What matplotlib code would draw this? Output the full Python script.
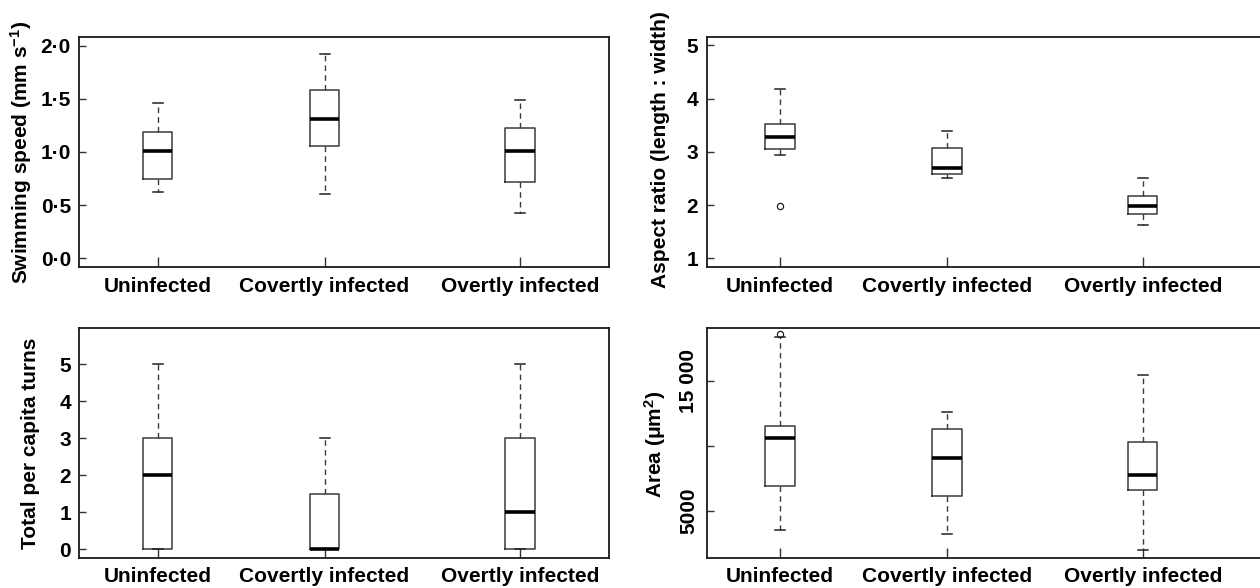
import matplotlib
matplotlib.use("Agg")
import matplotlib.pyplot as plt

plt.rcParams['font.family'] = ['Liberation Sans', 'DejaVu Sans']
plt.rcParams['font.weight'] = 'bold'
plt.rcParams['mathtext.fontset'] = 'custom'
plt.rcParams['mathtext.rm'] = 'Liberation Sans:bold'
plt.rcParams['mathtext.it'] = 'Liberation Sans:bold'
plt.rcParams['mathtext.bf'] = 'Liberation Sans:bold'

groups = ["Uninfected", "Covertly infected", "Overtly infected"]

# Swimming speed (mm s^-1)
speed_low = [0.624, 0.605, 0.425]
speed_q1 = [0.746, 1.052, 0.715]
speed_med = [1.006, 1.312, 1.009]
speed_q3 = [1.187, 1.584, 1.221]
speed_high = [1.462, 1.921, 1.487]
speed_out = [[], [], []]
speed_ticks = [0.0, 0.5, 1.0, 1.5, 2.0]
speed_ticklabels = ["0·0", "0·5", "1·0", "1·5", "2·0"]

# Aspect ratio (length : width)
aspect_low = [2.94, 2.51, 1.62]
aspect_q1 = [3.06, 2.59, 1.825]
aspect_med = [3.27, 2.70, 1.975]
aspect_q3 = [3.525, 3.08, 2.17]
aspect_high = [4.19, 3.40, 2.51]
aspect_out = [[1.99], [], []]
aspect_ticks = [1, 2, 3, 4, 5]
aspect_ticklabels = ["1", "2", "3", "4", "5"]

# Total per capita turns
turns_low = [0, 0, 0]
turns_q1 = [0, 0, 0]
turns_med = [2, 0, 1]
turns_q3 = [3, 1.5, 3]
turns_high = [5, 3, 5]
turns_out = [[], [], []]
turns_ticks = [0, 1, 2, 3, 4, 5]
turns_ticklabels = ["0", "1", "2", "3", "4", "5"]

# Area (um^2)
area_low = [3505, 3170, 1959]
area_q1 = [6907, 6160, 6572]
area_med = [10593, 9098, 7758]
area_q3 = [11572, 11340, 10335]
area_high = [18428, 12655, 15490]
area_out = [[18686], [], []]
area_ticks = [5000, 10000, 15000]
area_ticklabels = ["5000", "", "15 000"]

W, H = 1260, 588
fig = plt.figure(figsize=(W / 100, H / 100), dpi=100)


def px_axes(left, top, right, bottom):
    return fig.add_axes([left / W, 1 - bottom / H, (right - left) / W, (bottom - top) / H])


def draw(ax, low, q1, med, q3, high, outs, ticks, ticklabels, ylim, positions, width_px, axw_px, rot=False):
    stats = []
    for i in range(len(groups)):
        stats.append(dict(med=med[i], q1=q1[i], q3=q3[i], whislo=low[i], whishi=high[i], fliers=outs[i], label=groups[i]))
    bw = width_px / axw_px
    cw = 10.0 / axw_px
    ax.bxp(stats, positions=positions, widths=bw, capwidths=cw, showfliers=True,
           boxprops=dict(color='#3a3a3a', linewidth=1.1),
           medianprops=dict(color='black', linewidth=2.6, solid_capstyle='butt'),
           whiskerprops=dict(color='#3a3a3a', linewidth=1.0, linestyle=(0, (4, 3))),
           capprops=dict(color='#222222', linewidth=1.1),
           flierprops=dict(marker='o', markersize=4.5, markerfacecolor='none', markeredgecolor='#222222', markeredgewidth=0.9))
    ax.set_xlim(0, 1)
    ax.set_ylim(*ylim)
    ax.set_xticks(positions)
    ax.set_xticklabels(groups, fontsize=15, fontweight='bold')
    ax.set_yticks(ticks)
    if rot:
        ax.set_yticklabels(ticklabels, fontsize=15, fontweight='bold', rotation=90, va='center')
    else:
        ax.set_yticklabels(ticklabels, fontsize=15, fontweight='bold')
    ax.tick_params(axis='x', direction='in', length=7, width=1.0, color='#333333', pad=7)
    ax.tick_params(axis='y', direction='in', length=5, width=1.0, color='#333333', pad=6)
    for s in ax.spines.values():
        s.set_linewidth(1.3)
        s.set_color('#1a1a1a')


# Layout in pixels
L1, R1 = 79.3, 609.3
L2, R2 = 706.5, 1270.0
T_top, B_top = 36.7, 267.0
T_bot, B_bot = 327.7, 557.7

pos_left = [78.5 / (R1 - L1), 245.2 / (R1 - L1), 440.7 / (R1 - L1)]
pos_right = [73.5 / (R2 - L2), 240.6 / (R2 - L2), 436.2 / (R2 - L2)]

ax1 = px_axes(L1, T_top, R1, B_top)
draw(ax1, speed_low, speed_q1, speed_med, speed_q3, speed_high, speed_out,
     speed_ticks, speed_ticklabels, (-0.082, 2.084), pos_left, 29.3, R1 - L1)

ax2 = px_axes(L2, T_top, R2, B_top)
draw(ax2, aspect_low, aspect_q1, aspect_med, aspect_q3, aspect_high, aspect_out,
     aspect_ticks, aspect_ticklabels, (0.836, 5.164), pos_right, 29.3, R2 - L2)

ax3 = px_axes(L1, T_bot, R1, B_bot)
draw(ax3, turns_low, turns_q1, turns_med, turns_q3, turns_high, turns_out,
     turns_ticks, turns_ticklabels, (-0.225, 5.98), pos_left, 29.3, R1 - L1)

ax4 = px_axes(L2, T_bot, R2, B_bot)
draw(ax4, area_low, area_q1, area_med, area_q3, area_high, area_out,
     area_ticks, area_ticklabels, (1366, 19149), pos_right, 29.3, R2 - L2, rot=True)
ax4.tick_params(axis='y', pad=6)

# Y-axis labels
fig.text(21 / W, 1 - 152 / H, "Swimming speed (mm s$^{-1}$)", rotation=90, ha='center', va='center',
         fontsize=15, fontweight='bold')
fig.text(661 / W, 1 - 150 / H, "Aspect ratio (length : width)", rotation=90, ha='center', va='center',
         fontsize=15, fontweight='bold')
fig.text(31 / W, 1 - 443 / H, "Total per capita turns", rotation=90, ha='center', va='center',
         fontsize=15, fontweight='bold')
fig.text(655 / W, 1 - 444 / H, "Area (\u03bcm$^{2}$)", rotation=90, ha='center', va='center',
         fontsize=15, fontweight='bold')

fig.savefig("out.png", dpi=100)
